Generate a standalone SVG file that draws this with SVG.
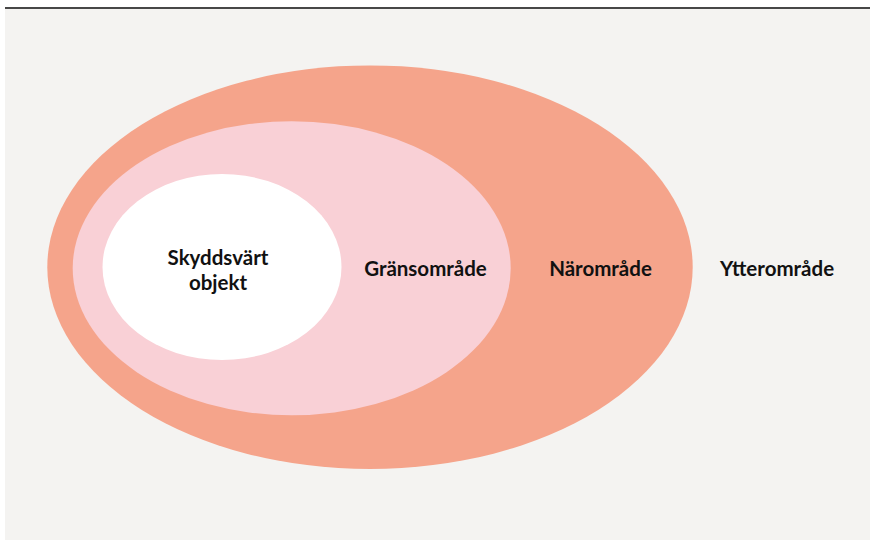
<svg xmlns="http://www.w3.org/2000/svg" width="870" height="541" viewBox="0 0 870 541">
  <style>
    .label { font-family: Lato, "Open Sans", "Liberation Sans", sans-serif; font-weight: 700; font-size: 20.5px; fill: #111111; text-anchor: middle; }
  </style>
  <!-- page background and top rule -->
  <rect x="5" y="9" width="865" height="531" fill="#f4f3f1"/>
  <line x1="5" y1="8" x2="870" y2="8" stroke="#474747" stroke-width="2"/>

  <!-- zones, outermost first -->
  <g id="narområde">
    <ellipse cx="370" cy="267.2" rx="322.7" ry="201.8" fill="#f5a48b"/>
    <text class="label" x="600.5" y="276">Närområde</text>
  </g>
  <g id="gransområde">
    <ellipse cx="291.7" cy="268.2" rx="219" ry="147" fill="#f9d0d6"/>
    <text class="label" x="425.5" y="276">Gränsområde</text>
  </g>
  <g id="skyddsvart-objekt">
    <ellipse cx="222" cy="267" rx="119.5" ry="93" fill="#ffffff"/>
    <text class="label" x="218" y="265">Skyddsvärt</text>
    <text class="label" x="218" y="290">objekt</text>
  </g>
  <g id="ytterområde">
    <text class="label" x="777" y="276">Ytterområde</text>
  </g>
</svg>
